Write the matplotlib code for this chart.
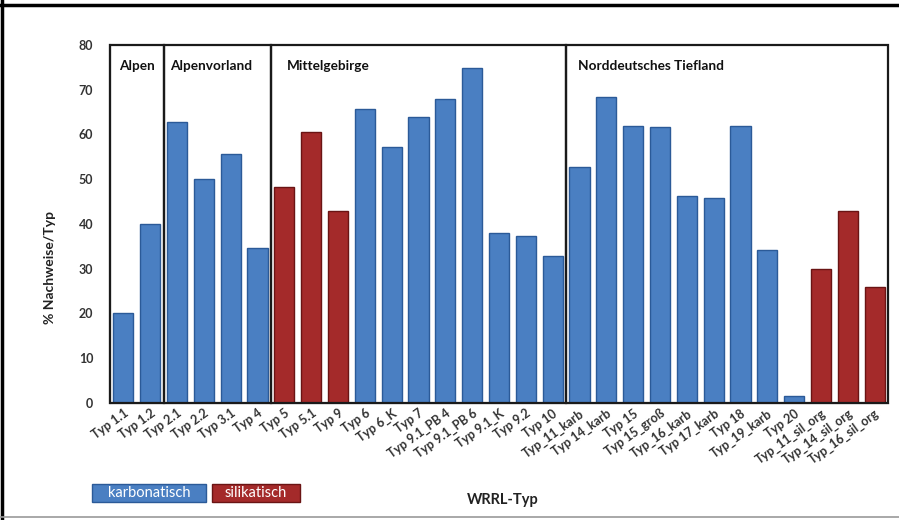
import matplotlib
matplotlib.use("Agg")
import matplotlib.pyplot as plt
from matplotlib.patches import Rectangle
from matplotlib.lines import Line2D

categories = ["Typ 1.1", "Typ 1.2", "Typ 2.1", "Typ 2.2", "Typ 3.1", "Typ 4",
              "Typ 5", "Typ 5.1", "Typ 9", "Typ 6", "Typ 6_K", "Typ 7",
              "Typ 9.1_PB 4", "Typ 9.1_PB 6", "Typ 9.1_K", "Typ 9.2", "Typ 10",
              "Typ_11_karb", "Typ 14_karb", "Typ 15", "Typ 15_groß", "Typ_16_karb",
              "Typ 17_karb", "Typ 18", "Typ_19_karb", "Typ 20",
              "Typ_11_sil_org", "Typ_14_sil_org", "Typ_16_sil_org"]
values = [20.2, 40.0, 62.8, 50.0, 55.7, 34.6,
          48.2, 60.5, 43.0, 65.8, 57.2, 64.0,
          67.9, 74.8, 38.0, 37.3, 32.8,
          52.7, 68.4, 61.9, 61.7, 46.3,
          45.7, 61.9, 34.2, 1.6,
          30.0, 43.0, 26.0]
groups = ["karbonatisch"] * 6 + ["silikatisch"] * 3 + ["karbonatisch"] * 17 + ["silikatisch"] * 3
regions = ["Alpen", "Alpenvorland", "Mittelgebirge", "Norddeutsches Tiefland"]
region_start = [0, 2, 6, 17]
region_end = [1, 5, 16, 28]
y_ticks = [0, 10, 20, 30, 40, 50, 60, 70, 80]

face = {"karbonatisch": "#4a7fc2", "silikatisch": "#a42a2a"}
edge = {"karbonatisch": "#2b5a98", "silikatisch": "#6a1414"}

plt.rcParams['font.family'] = ['Lato', 'DejaVu Sans']

fig = plt.figure(figsize=(8.99, 5.20), dpi=100)
ax = fig.add_axes([110/899, (520-403)/520, (888-110)/899, (403-45)/520])

x = list(range(len(categories)))
ax.bar(x, values, width=0.75,
       color=[face[g] for g in groups],
       edgecolor=[edge[g] for g in groups], linewidth=1.0, zorder=2)

ax.set_xlim(-0.5, len(categories) - 0.5)
ax.set_ylim(0, 80)
ax.set_yticks(y_ticks)
ax.set_yticklabels([str(t) for t in y_ticks], fontsize=9, fontweight='bold', color='#333333')
ax.tick_params(axis='y', length=0, pad=12)
ax.tick_params(axis='x', length=0, pad=3)
ax.set_xticks(x)
ax.set_xticklabels(categories, rotation=36, ha='right', rotation_mode='anchor',
                   fontsize=9, fontweight='bold', color='#333333')
for s in ['top', 'right']:
    ax.spines[s].set_visible(False)
ax.spines['left'].set_color('#222222')
ax.spines['bottom'].set_color('#222222')
ax.spines['left'].set_linewidth(1.5)

label_x = [-0.15, 1.75, 6.1, 16.95]
for name, s, e, lx in zip(regions, region_start, region_end, label_x):
    ax.add_patch(Rectangle((s - 0.5, 0), e - s + 1, 80, fill=False,
                           edgecolor='#1a1a1a', linewidth=1.6, zorder=3, clip_on=False))
    ax.text(lx, 75.3, name, fontsize=9.8, fontweight='bold',
            color='#111111', ha='left', va='center', zorder=4)

fig.text(50/899, (520-268)/520, "% Nachweise/Typ", rotation=90, fontsize=10,
         fontweight='bold', color='#222222', ha='center', va='center')
fig.text(503/899, (520-500)/520, "WRRL-Typ", fontsize=10.5, fontweight='bold',
         color='#222222', ha='center', va='center')

# legend boxes
for label, x0, x1 in [("karbonatisch", 92, 206), ("silikatisch", 212, 300)]:
    fig.patches.append(Rectangle((x0/899, (520-502)/520), (x1-x0)/899, 18/520,
                                 transform=fig.transFigure, facecolor=face[label],
                                 edgecolor=edge[label], linewidth=1.0))
    fig.text((x0+x1)/2/899, (520-493)/520, label, fontsize=10.5, color='white',
             ha='center', va='center')

# outer frame lines
fig.add_artist(Line2D([0, 1], [1-4.5/520, 1-4.5/520], transform=fig.transFigure,
                      color='black', linewidth=2.5))
fig.add_artist(Line2D([1.5/899, 1.5/899], [0, 1], transform=fig.transFigure,
                      color='black', linewidth=2.5))
fig.add_artist(Line2D([0, 1], [3/520, 3/520], transform=fig.transFigure,
                      color='#999999', linewidth=1.2))

fig.savefig("out.png", dpi=100)
